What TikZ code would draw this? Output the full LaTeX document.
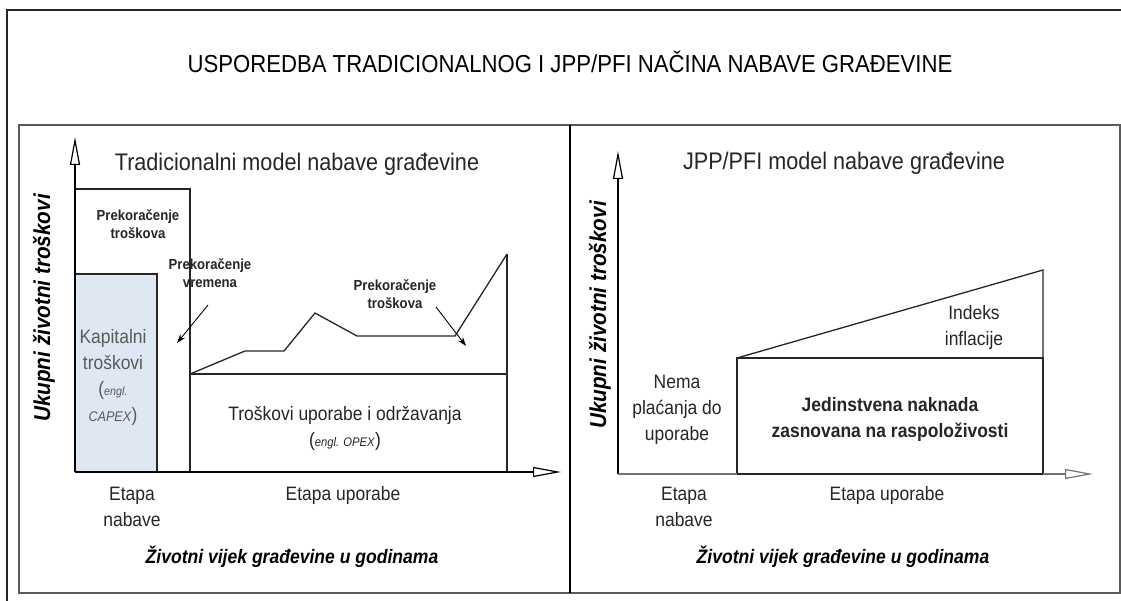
\documentclass[tikz,border=0pt]{standalone}
\usepackage{fontspec}
\setmainfont[FakeStretch=0.9]{Liberation Sans}
\usepackage{tikz}
\usetikzlibrary{arrows.meta}
\usetikzlibrary{positioning}
\definecolor{capexfill}{RGB}{222,231,242}
\definecolor{framegray}{RGB}{90,90,90}
\tikzset{
    heading/.style={
           font=\fontsize{24.6}{28}\selectfont,
           inner sep=0pt,
           },
    subheading/.style={
           font=\fontsize{24}{28}\selectfont,
           text=black!85,
           inner sep=0pt,
           },
    note/.style={
           font=\fontsize{14.6}{18.5}\selectfont\bfseries,
           align=center,
           text=black!85,
           inner sep=0pt,
           },
    txt/.style={
           font=\fontsize{19.4}{26}\selectfont,
           align=center,
           text=black!85,
           inner sep=0pt,
           },
    boldtxt/.style={
           txt,
           font=\fontsize{19.4}{26}\selectfont\bfseries,
           },
    lifetxt/.style={
           font=\fontsize{19.5}{22}\selectfont\bfseries\itshape,
           inner sep=0pt,
           },
    costaxis/.style={
           font=\fontsize{23}{26}\selectfont\bfseries\itshape,
           rotate=90,
           inner sep=0pt,
           },
    axisline/.style={
           line width=1.6pt,
           -{Triangle[open,length=28pt,width=10pt,line width=1.2pt]},
           },
    pointer/.style={
           line width=0.9pt,
           -{Stealth[length=9pt,width=6pt]},
           },
    chart/.style={
           line width=1.3pt,
           black!85,
           },
}

\begin{document}
\begin{tikzpicture}[x=1pt,y=-1pt]
   \useasboundingbox (0,0) rectangle (1121,601);
   \clip (0,0) rectangle (1121,601);
   \fill[white] (0,0) rectangle (1121,601);
   \draw[line width=1.8pt, black!85] (7,10) rectangle (1140,620);
   \draw[line width=1.8pt, framegray] (19,125) rectangle (1120,593);
   \draw[line width=1.2pt] (570,125) -- (570,593);

   \node[heading] (title) at (570,62) {USPOREDBA TRADICIONALNOG I JPP/PFI NAČINA NABAVE GRAĐEVINE};

   % tradicionalni model
   \node[subheading] (tradtitle) at (297,164) {Tradicionalni model nabave građevine};
   \fill[capexfill] (75,274) rectangle (157,472);
   \draw[chart] (75,274) -- (157,274) -- (157,472);
   \draw[chart] (75,189) -- (190,189) -- (190,472);
   \draw[chart] (190,374) -- (507,374);
   \draw[chart] (507,254) -- (507,472);
   \draw[chart] (190,374) -- (245,351) -- (284,351) -- (315,313)
      -- (357,336) -- (455,336) -- (507,254);
   \draw[axisline] (75,472) -- (75,137);
   \draw[axisline] (75,472) -- (561,472);

   \node[note] (ovrcost) at (138,224) {Prekoračenje\\troškova};
   \node[note] (ovrtime) at (210,273) {Prekoračenje\\vremena};
   \node[note] (ovrcost2) at (395,294) {Prekoračenje\\troškova};
   \coordinate (timetail) at (208,305);
   \coordinate (timetip) at (177,343);
   \coordinate (costtail) at (436,307);
   \coordinate (costtip) at (466,346);
   \draw[pointer] (timetail) -- (timetip);
   \draw[pointer] (costtail) -- (costtip);

   \node[txt, text=black!65] (capex) at (113,377)
      {Kapitalni\\troškovi\\(\textit{\fontsize{12}{13}\selectfont engl.}\\\textit{\fontsize{14}{15}\selectfont CAPEX})};
   \node[txt] (opex) at (345,428)
      {Troškovi uporabe i održavanja\\(\textit{\fontsize{12.5}{13}\selectfont engl. OPEX})};
   \node[txt] (tradprep) at (132,507) {Etapa\\nabave};
   \node[txt] (traduse) at (343,495) {Etapa uporabe};
   \node[lifetxt] (tradlife) at (292,557) {Životni vijek građevine u godinama};
   \node[costaxis] (tradcost) at (44,308) {Ukupni životni troškovi};

   % JPP/PFI model
   \node[subheading] (ppptitle) at (844,163) {JPP/PFI model nabave građevine};
   \draw[chart] (737,358) rectangle (1043,474);
   \draw[chart] (737,358) -- (1043,270) -- (1043,358);
   \draw[axisline] (618,474) -- (618,151);
   \draw[axisline, black!55] (618,474) -- (1093,474);
   \draw[line width=2.2pt, black!85] (737,474) -- (1043,474);

   \node[txt] (inflation) at (974,327) {Indeks\\inflacije};
   \node[txt] (nopay) at (677,410) {Nema\\plaćanja do\\uporabe};
   \node[boldtxt] (unitary) at (890,419) {Jedinstvena naknada\\zasnovana na raspoloživosti};
   \node[txt] (pppprep) at (684,507) {Etapa\\nabave};
   \node[txt] (pppuse) at (887,495) {Etapa uporabe};
   \node[lifetxt] (ppplife) at (843,557) {Životni vijek građevine u godinama};
   \node[costaxis] (pppcost) at (600,315) {Ukupni životni troškovi};
\end{tikzpicture}
\end{document}
